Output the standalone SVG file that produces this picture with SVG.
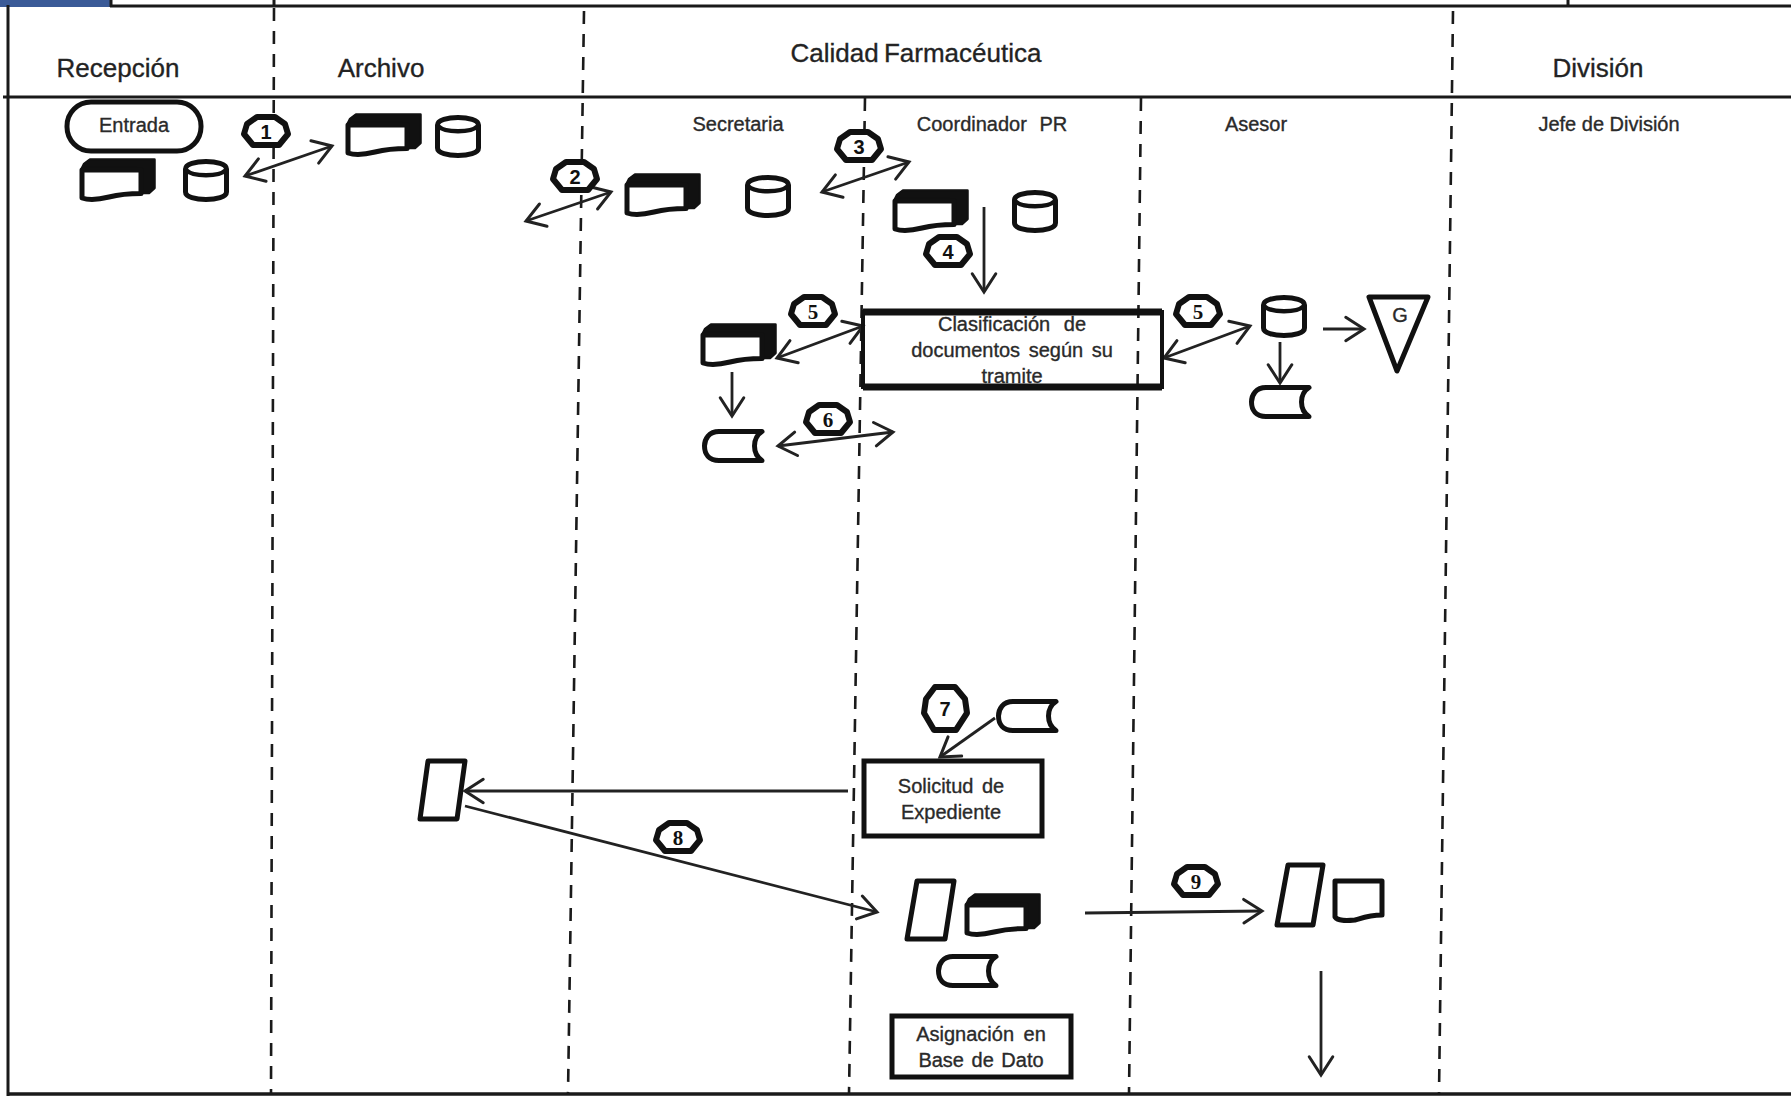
<svg xmlns="http://www.w3.org/2000/svg" xmlns:xlink="http://www.w3.org/1999/xlink" width="1791" height="1096" viewBox="0 0 1791 1096">
<style>
text{font-family:"Liberation Sans",Arial,sans-serif;fill:#2a2a2a;stroke:#2a2a2a;stroke-width:.35px;font-size:20px;text-anchor:middle}
.h{font-size:26px;fill:#222}
.frame{stroke:#1a1a1a;stroke-width:3;fill:none}
.dash{stroke:#1a1a1a;stroke-width:2.6;stroke-dasharray:13 10;fill:none}
.box{fill:#fff;stroke:#111;stroke-width:5}
.sh{fill:#fff;stroke:#111;stroke-width:5;stroke-linejoin:round;stroke-linecap:round}
.ar{stroke:#222;stroke-width:2.800;fill:none;marker-end:url(#v)}
.dbl{marker-start:url(#v)}
.bd{fill:#fff;stroke:#111;stroke-width:6;stroke-linejoin:round}
.n{font-family:"Liberation Serif",serif;font-weight:bold;font-size:21px;fill:#111;stroke:none}
.ns{font-weight:bold;font-size:20px;fill:#111;stroke:none}
</style>
<defs>
<marker id="v" markerUnits="userSpaceOnUse" markerWidth="30" markerHeight="30" refX="20" refY="14" orient="auto-start-reverse" viewBox="0 0 24 28"><path d="M3 3L20 14L3 25" fill="none" stroke="#222" stroke-width="2.8" stroke-linecap="round"/></marker>
<g id="stack"><path d="M5 6L11 1.500H75.500V30L70 35H58V10H3Z" fill="#111" stroke="#111" stroke-width="2.500" stroke-linejoin="round"/><path class="sh" d="M3 12H62V35.500C52 35.500 42 36 30 39C18 42 9 42 3 40Z"/></g>
<g id="cyl"><path class="sh" d="M2.500 10C2.500 0 43.500 0 43.500 10V33C43.500 43 2.500 43 2.500 33Z"/><path d="M3 11C10 18 36 18 43 11" fill="none" stroke="#111" stroke-width="4.500"/></g>
<g id="tape"><path class="sh" d="M60 2.500H17C7 2.500 2.500 10 2.500 17C2.500 25 7 31.500 17 31.500H60C50 25 50 9 60 2.500Z"/></g>
<polygon id="bdg" class="bd" points="-9,-15 9,-15 19,-8 22,2 13,13 -13,13 -22,2 -19,-8"/>
</defs>
<g id="frame">
<rect x="0" y="0" width="110" height="7" fill="#3a5a97"/>
<path class="frame" d="M111 0V7M110 6H1791M1568 0V6M274 0V6M8 5V1096M3 97H1791"/>
<path d="M8 1094H1791" stroke="#1a1a1a" stroke-width="3.500" fill="none"/>
</g>
<g id="lanes">
<path class="dash" d="M274 8L271 1094"/>
<path class="dash" d="M584 11L568 1094"/>
<path class="dash" d="M865 98L849 1094"/>
<path class="dash" d="M1141 98L1129 1094"/>
<path class="dash" d="M1453 11L1439 1094"/>
</g>
<g id="headers">
<text class="h" x="118" y="77">Recepción</text>
<text class="h" x="381" y="77">Archivo</text>
<text class="h" x="916" y="62" style="word-spacing:-2px">Calidad Farmacéutica</text>
<text class="h" x="1598" y="77">División</text>
<text x="738" y="131">Secretaria</text>
<text x="992" y="131" style="word-spacing:7px">Coordinador PR</text>
<text x="1256" y="131">Asesor</text>
<text x="1609" y="131">Jefe de División</text>
</g>
<g id="connectors">
<path class="ar dbl" d="M245 176L332 146"/>
<path class="ar dbl" d="M526 221L611 192"/>
<path class="ar dbl" d="M822 192L909 162"/>
<path class="ar" d="M984 207V292"/>
<path class="ar dbl" d="M777 358L863 326"/>
<path class="ar dbl" d="M1164 358L1250 326"/>
<path class="ar dbl" d="M778 446L893 432"/>
<path class="ar" d="M732 372V416"/>
<path class="ar" d="M1280 342V383"/>
<path class="ar" d="M1323 329H1364"/>
<path class="ar" d="M995 718L940 757"/>
<path class="ar" d="M848 791H465"/>
<path class="ar" d="M465 806L877 912"/>
<path class="ar" d="M1085 913L1262 911"/>
<path class="ar" d="M1321 971V1075"/>
</g>
<g id="entrada"><rect class="box" x="67" y="102" width="134" height="49" rx="24"/><text x="134" y="132">Entrada</text></g>
<g id="doc-recepcion"><use href="#stack" x="79" y="158"/></g>
<g id="db-recepcion"><use href="#cyl" x="183" y="159"/></g>
<g id="doc-archivo"><use href="#stack" x="345" y="113"/></g>
<g id="db-archivo"><use href="#cyl" x="435" y="115"/></g>
<g id="doc-secretaria"><use href="#stack" x="624" y="173"/></g>
<g id="db-secretaria"><use href="#cyl" x="745" y="175"/></g>
<g id="doc-coordinador"><use href="#stack" x="892" y="189"/></g>
<g id="db-coordinador"><use href="#cyl" x="1012" y="190"/></g>
<g id="doc-sec2"><use href="#stack" x="700" y="323"/></g>
<g id="tape-sec"><use href="#tape" x="702" y="429"/></g>
<g id="clasificacion"><path d="M863 312H1162V387H863Z" fill="none" stroke="#111" stroke-width="4"/><path d="M863 312H1162M863 387H1162" stroke="#111" stroke-width="7" fill="none"/>
<text x="1012" y="331" style="word-spacing:8px">Clasificación de</text><text x="1012" y="357" style="word-spacing:3px">documentos según su</text><text x="1012" y="383">tramite</text></g>
<g id="db-asesor"><use href="#cyl" x="1261" y="295"/></g>
<g id="tape-asesor"><use href="#tape" x="1249" y="385"/></g>
<g id="guia"><polygon class="sh" points="1369,297 1428,297 1397,371"/><text x="1400" y="322">G</text></g>
<g id="tape-7"><use href="#tape" x="996" y="699"/></g>
<g id="solicitud"><rect class="box" x="864" y="761" width="178" height="75"/><text x="951" y="793" style="word-spacing:3px">Solicitud de</text><text x="951" y="819">Expediente</text></g>
<g id="exp-archivo"><polygon class="sh" points="428,761 465,761 457,819 420,819"/></g>
<g id="exp-calidad"><polygon class="sh" points="917,881 954,881 945,939 907,939"/></g>
<g id="doc-calidad"><use href="#stack" x="964" y="893"/></g>
<g id="tape-calidad"><use href="#tape" x="936" y="954"/></g>
<g id="asignacion"><rect class="box" x="892" y="1016" width="179" height="61"/><text x="981" y="1041" style="word-spacing:4px">Asignación en</text><text x="981" y="1067" style="word-spacing:2px">Base de Dato</text></g>
<g id="exp-division"><polygon class="sh" points="1288,865 1323,865 1313,925 1277,925"/></g>
<g id="doc-division"><path class="sh" d="M1335 881H1382V915C1370 915 1365 917 1355 920C1345 921 1338 921 1335 917Z"/></g>
<g id="b1"><use href="#bdg" x="266" y="132"/><text class="ns" x="266" y="139">1</text></g>
<g id="b2"><use href="#bdg" x="575" y="177"/><text class="ns" x="575" y="184">2</text></g>
<g id="b3"><use href="#bdg" x="859" y="147"/><text class="ns" x="859" y="154">3</text></g>
<g id="b4"><use href="#bdg" x="948" y="252"/><text class="ns" x="948" y="259">4</text></g>
<g id="b5a"><use href="#bdg" x="813" y="312"/><text class="n" x="813" y="319">5</text></g>
<g id="b5b"><use href="#bdg" x="1198" y="312"/><text class="n" x="1198" y="319">5</text></g>
<g id="b6"><use href="#bdg" x="828" y="420"/><text class="n" x="828" y="427">6</text></g>
<g id="b7"><polygon class="bd" points="-10,-22 10,-22 20,-10 22,4 11,21 -11,21 -21,4 -19,-10" transform="translate(945,709)"/><text class="ns" x="945" y="716">7</text></g>
<g id="b8"><use href="#bdg" x="678" y="838"/><text class="n" x="678" y="845">8</text></g>
<g id="b9"><use href="#bdg" x="1196" y="882"/><text class="n" x="1196" y="889">9</text></g>
</svg>
